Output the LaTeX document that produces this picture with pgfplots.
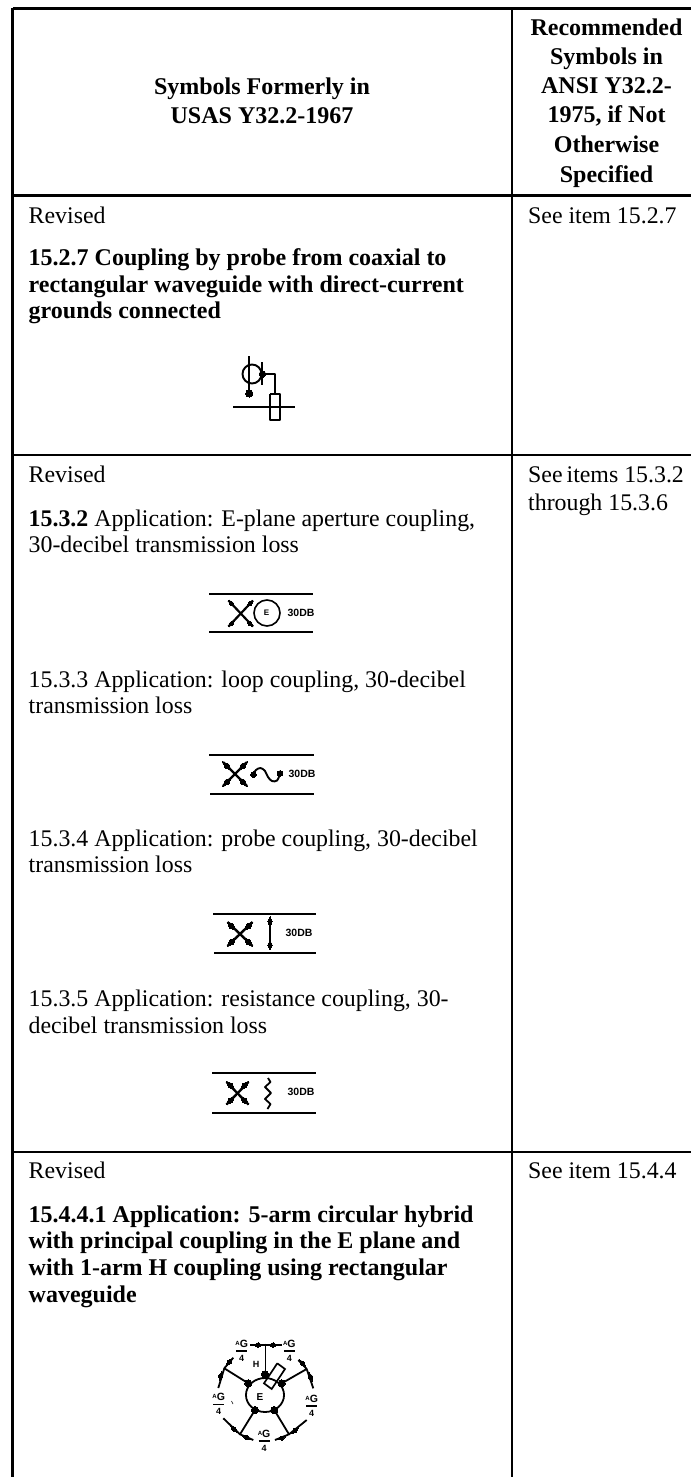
\documentclass[border=0pt]{standalone}
\usepackage{pgfplots}
\pgfplotsset{compat=1.18}
\usepackage{fontspec}
\setmainfont{Liberation Serif}
\newfontfamily\symfont{Liberation Sans}
\newcommand{\T}[3]{\node[anchor=base west,inner sep=0pt,text=black] at (axis cs:#1,#2){\fontsize{23.85}{29}\selectfont #3};}
\newcommand{\TB}[3]{\node[anchor=base west,inner sep=0pt,text=black] at (axis cs:#1,#2){\fontsize{24}{29}\selectfont\bfseries #3};}
\newcommand{\Tc}[3]{\node[anchor=base,inner sep=0pt,text=black] at (axis cs:#1,#2){\fontsize{24}{29}\selectfont\bfseries #3};}
\newcommand{\Ln}[2]{\addplot[black,line width=#1,mark=none,line join=round,forget plot] coordinates {#2};}
\newcommand{\Cu}[2]{\addplot[black,line width=#1,mark=none,smooth,tension=0.6,forget plot] coordinates {#2};}
\newcommand{\Bl}[4]{\addplot[only marks,forget plot,mark=diamond*,mark size=#1,mark options={rotate=#2,xscale=2.8,black,line width=0pt}] coordinates {(#3,#4)};}
\newcommand{\Dt}[3]{\addplot[only marks,forget plot,mark=*,mark size=#1,mark options={black,line width=0pt}] coordinates {(#2,#3)};}
\newcommand{\Lb}[4]{\node[inner sep=0pt,text=black] at (axis cs:#1,#2){\symfont\fontsize{#3}{#3}\selectfont\bfseries #4};}
\newcommand{\AG}[2]{%
  \node[inner sep=0pt,text=black] at (axis cs:#1,#2-7){\symfont\bfseries{\fontsize{6}{6}\selectfont\raisebox{2pt}{A}}{\fontsize{10.5}{10}\selectfont G}};
  \Ln{1.4}{(#1-5.5,#2) (#1+5.5,#2)}
  \node[inner sep=0pt,text=black] at (axis cs:#1,#2+7){\symfont\bfseries\fontsize{9}{9}\selectfont 4};}
\begin{document}
\begin{tikzpicture}
\useasboundingbox (0,0) rectangle (691pt,1477pt);
\begin{axis}[at={(0,0)},anchor=south west,scale only axis,width=691pt,height=1477pt,
  xmin=0,xmax=691,ymin=0,ymax=1477,y dir=reverse,hide axis,clip=true]
% table rules
\Ln{3}{(12.5,8.5) (691,8.5)}
\Ln{3}{(12.5,8) (12.5,1477)}
\Ln{1.6}{(512,8) (512,1477)}
\Ln{3}{(12,195) (691,195)}
\Ln{2}{(12,455) (691,455)}
\Ln{2}{(12,1152) (691,1152)}
% header
\Tc{262}{95}{Symbols Formerly in}
\Tc{262}{124}{USAS Y32.2-1967}
\Tc{606.5}{36}{Recommended}
\Tc{606.5}{65}{Symbols in}
\Tc{606.5}{94}{ANSI Y32.2-}
\Tc{606.5}{123}{1975, if Not}
\Tc{606.5}{153}{Otherwise}
\Tc{606.5}{182}{Specified}
% row 1
\T{28.5}{223}{Revised}
\TB{28.5}{265}{15.2.7 Coupling by probe from coaxial to}
\TB{28.5}{292}{rectangular waveguide with direct-current}
\TB{28.5}{318}{grounds connected}
\T{528}{223}{See item 15.2.7}
% row 2
\T{28.5}{482}{Revised}
\T{528}{482}{See\hspace{4pt}items 15.3.2}
\T{528}{510}{through 15.3.6}
\T{28.5}{526}{{\bfseries 15.3.2} Application: E-plane aperture coupling,}
\T{28.5}{552}{30-decibel transmission loss}
\T{28.5}{687}{15.3.3 Application: loop coupling, 30-decibel}
\T{28.5}{713}{transmission loss}
\T{28.5}{846}{15.3.4 Application: probe coupling, 30-decibel}
\T{28.5}{872}{transmission loss}
\T{28.5}{1006}{15.3.5 Application: resistance coupling, 30-}
\T{28.5}{1033}{decibel transmission loss}
% row 3
\T{28.5}{1178}{Revised}
\T{528}{1178}{See item 15.4.4}
\TB{28.5}{1222}{15.4.4.1 Application: 5-arm circular hybrid}
\TB{28.5}{1248}{with principal coupling in the E plane and}
\TB{28.5}{1275}{with 1-arm H coupling using rectangular}
\TB{28.5}{1302}{waveguide}
% symbol 15.2.7
\Ln{2}{(249,356) (249,393)}
\addplot[only marks,forget plot,mark=o,mark size=9.5,mark options={black,line width=1.9}] coordinates {(252,374)};
\Ln{2.2}{(262.3,362) (262.3,385)}
\Dt{3.3}{262.5}{374}
\Dt{3.6}{249.3}{393.5}
\Ln{2}{(262,374) (275,374) (275,394)}
\Ln{2}{(233,407) (295,407)}
\Ln{2}{(270,394) (280,394) (280,419.5) (270,419.5) (270,394)}
% symbol 15.3.2
\Ln{2.2}{(209,594) (313,594)}
\Ln{2.2}{(209,632) (313,632)}
\Ln{2.2}{(228.5,600.5) (253,626.5)}
\Ln{2.2}{(253,600.5) (228.5,626.5)}
\Bl{2}{-45}{231.5}{603.5}
\Bl{2}{45}{250}{603.5}
\Bl{2}{45}{231.5}{623.5}
\Bl{2}{-45}{250}{623.5}
\addplot[only marks,forget plot,mark=o,mark size=13,mark options={black,line width=1.6}] coordinates {(267,613)};
\Lb{266.5}{613}{8}{E}
\Lb{301}{613}{10.5}{30DB}
% symbol 15.3.3
\Ln{2.2}{(209,755) (314,755)}
\Ln{2.2}{(210,794) (314,794)}
\Ln{2.4}{(223,762) (247,786)}
\Ln{2.4}{(247,762) (223,786)}
\Bl{2.7}{-45}{227}{766}
\Bl{2.7}{45}{243}{766}
\Bl{2.7}{45}{227}{782}
\Bl{2.7}{-45}{243}{782}
\Cu{1.9}{(253,774) (256,770) (260.5,768) (265,771) (268,777) (272,781) (277,780.5) (280,774)}
\Dt{2.9}{253.5}{774.5}
\Dt{2.9}{280}{773.5}
\Lb{302}{774}{10.5}{30DB}
% symbol 15.3.4
\Ln{2.2}{(213,914) (316,914)}
\Ln{2.2}{(214,953) (316,953)}
\Ln{2.4}{(227.5,922) (252.5,946)}
\Ln{2.4}{(252.5,922) (227.5,946)}
\Bl{2.7}{-45}{231.5}{926}
\Bl{2.7}{45}{248.5}{926}
\Bl{2.7}{45}{231.5}{942}
\Bl{2.7}{-45}{248.5}{942}
\Ln{1.9}{(270,918) (270,947)}
\Bl{2.2}{90}{270}{921.5}
\Bl{2.2}{90}{270}{945}
\Lb{299}{933}{10.5}{30DB}
% symbol 15.3.5
\Ln{2.2}{(212,1073) (316,1073)}
\Ln{2.2}{(212,1113) (316,1113)}
\Ln{2.4}{(226.5,1082) (248.5,1104.5)}
\Ln{2.4}{(248.5,1082) (226.5,1104.5)}
\Bl{2.7}{-45}{230.5}{1085.5}
\Bl{2.7}{45}{244.5}{1085.5}
\Bl{2.7}{45}{230.5}{1100.5}
\Bl{2.7}{-45}{244.5}{1100.5}
\Ln{1.8}{(268,1078) (270.5,1082) (265,1087) (271,1093) (265,1099) (270.5,1104) (267.5,1109)}
\Lb{301}{1092}{10.5}{30DB}
% symbol 15.4.4.1
\addplot[only marks,forget plot,mark=o,mark size=17,mark options={xscale=1.12,black,line width=1.8}] coordinates {(265,1395)};
\Ln{1.8}{(265.5,1343.5) (265.5,1374)}
\Ln{1.8}{(250,1345) (281.5,1345)}
\Ln{1.8}{(248.3,1383.3) (224.3,1368.3)}
\Ln{1.8}{(281.7,1383.3) (306.7,1369)}
\Ln{1.8}{(255,1410) (240,1434.3)}
\Ln{1.8}{(274.3,1410) (289,1434.3)}
\Ln{1.8}{(233.3,1357.7) (224.3,1368.3) (218.3,1388)}
\Ln{1.8}{(298.3,1360) (306.7,1369) (313.3,1388.3)}
\Ln{1.8}{(223.3,1418.3) (240,1434.3) (253.3,1440)}
\Ln{1.8}{(306.7,1420) (289,1434.3) (275,1440)}
\Dt{3.6}{248.3}{1383.3}
\Dt{3.6}{265}{1374.3}
\Dt{3.6}{281.7}{1383.3}
\Dt{3.6}{274.3}{1410}
\Dt{3.6}{255}{1410}
\Bl{2.2}{0}{258}{1345}
\Bl{2.2}{0}{273}{1345}
\Bl{2.2}{50}{229.3}{1362}
\Bl{2.2}{75}{220.7}{1376}
\Bl{2.2}{-50}{302.7}{1363.5}
\Bl{2.2}{-70}{310.7}{1377}
\Bl{2.2}{-45}{234}{1429}
\Bl{2.2}{-25}{246.7}{1437.5}
\Bl{2.2}{40}{295}{1430.5}
\Bl{2.2}{25}{281.7}{1438}
\addplot[black,line width=1.7,fill=white,mark=none,forget plot] coordinates {(277.3,1363.3) (285,1369) (271.7,1389) (264,1383.3) (277.3,1363.3)};
\AG{241.7}{1351}
\AG{289.3}{1351}
\AG{218.7}{1404.3}
\AG{311.7}{1406}
\AG{264}{1441}
\Lb{256}{1364}{9}{H}
\Lb{260}{1396.7}{10}{E}
\Ln{0.6}{(231.5,1401) (233,1404)}
\end{axis}
\end{tikzpicture}
\end{document}
